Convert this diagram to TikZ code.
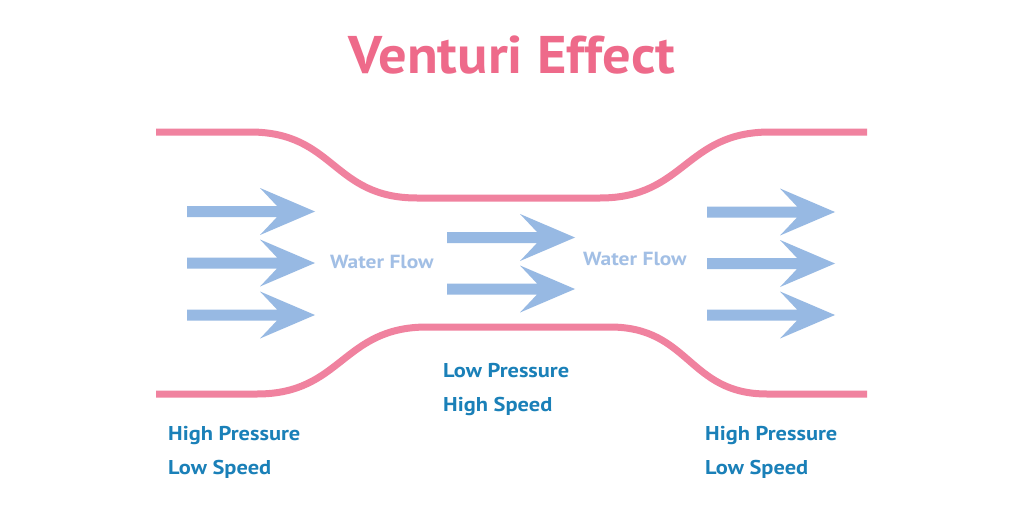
\documentclass[tikz,border=0pt]{standalone}
\usepackage{fontspec}
\setmainfont{PT Sans}
\definecolor{pipe}{HTML}{F0829F}
\definecolor{titlepink}{HTML}{EE6A8A}
\definecolor{flow}{HTML}{97B9E3}
\definecolor{flowtext}{HTML}{A2BFE5}
\definecolor{label}{HTML}{1A80B8}
\newcommand{\widen}[2]{\scalebox{#1}[1]{#2}}
\begin{document}
\begin{tikzpicture}[x=1pt,y=-1pt,
  pipeline/.style={draw=pipe,line width=7pt},
  flowarrow/.style={fill=flow,draw=none},
  flowlabel/.style={font=\fontsize{19}{19}\selectfont\bfseries,text=flowtext,inner sep=0pt,anchor=base west},
  plabel/.style={font=\fontsize{20}{20}\selectfont\bfseries,text=label,inner sep=0pt,anchor=base west},
]
\useasboundingbox (0,0) rectangle (1024,516);
\fill[white] (0,0) rectangle (1024,516);
% title
\node[font=\fontsize{53}{53}\selectfont\bfseries,text=titlepink,inner sep=0pt,anchor=base] (title) at (512,74) {\widen{1.066}{Venturi Effect}};
% pipes
\draw[pipeline] (156,132) -- (250,132) .. controls (335,132) and (332,198) .. (417,198) -- (600,198) .. controls (685,198) and (685,132) .. (770,132) -- (867,132);
\draw[pipeline] (156,394) -- (257,394) .. controls (342,394) and (342,327) .. (427,327) -- (610,327) .. controls (690,327) and (688,394) .. (767,394) -- (867,394);
% arrows
\newcommand{\flowarr}[2]{%
  \fill[flowarrow] (#1,#2-5.5) -- (#1+90,#2-5.5) -- (#1+73,#2-23.5) -- (#1+128,#2) -- (#1+73,#2+23.5) -- (#1+90,#2+5.5) -- (#1,#2+5.5) -- cycle;}
\flowarr{187}{211.5}
\flowarr{187}{263}
\flowarr{187}{315}
\flowarr{447}{237.5}
\flowarr{447}{289}
\flowarr{707}{212}
\flowarr{707}{263.5}
\flowarr{707}{315}
% labels
\node[flowlabel] (wf1) at (330,268) {\widen{1.13}{Water Flow}};
\node[flowlabel] (wf2) at (583,265) {\widen{1.13}{Water Flow}};
\node[plabel] (hp1) at (168,440) {\widen{1.12}{High Pressure}};
\node[plabel] (ls1) at (168,474) {\widen{1.12}{Low Speed}};
\node[plabel] (lp) at (443,377) {\widen{1.12}{Low Pressure}};
\node[plabel] (hs) at (443,411) {\widen{1.12}{High Speed}};
\node[plabel] (hp2) at (705,440) {\widen{1.12}{High Pressure}};
\node[plabel] (ls2) at (705,474) {\widen{1.12}{Low Speed}};
\end{tikzpicture}
\end{document}
